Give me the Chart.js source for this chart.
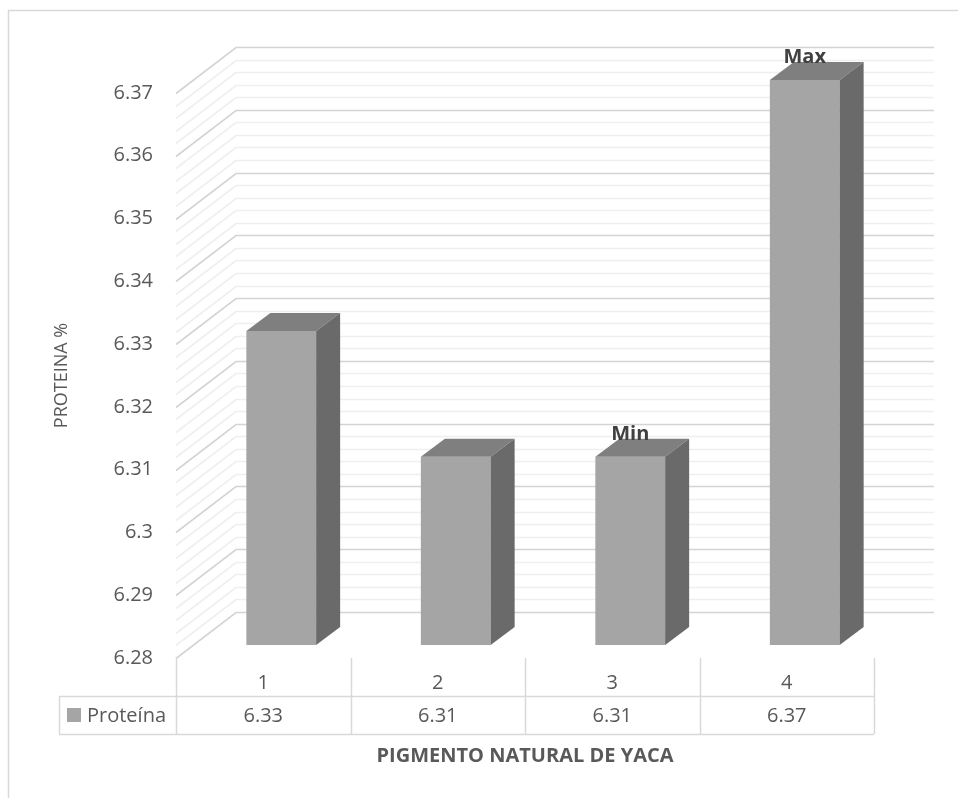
<!DOCTYPE html>
<html>
<head>
<meta charset="utf-8">
<script src="https://cdn.jsdelivr.net/npm/chart.js@4.4.0/dist/chart.umd.min.js"></script>
<style>
  body { margin: 0; background: #fff; }
  canvas { display: block; }
</style>
</head>
<body>
<canvas id="chartBar" width="958" height="798"></canvas>
<script>
// dados
const categorias = ['1', '2', '3', '4'];
const proteina = [6.33, 6.31, 6.31, 6.37];
const notas = ['', '', 'Min', 'Max'];
const nomeSerie = 'Proteína';
const eixoMin = 6.28;
const eixoMax = 6.37;
const passoMaior = 0.01;
const passoMenor = 0.002;
const tituloY = 'PROTEINA %';
const tituloX = 'PIGMENTO NATURAL DE YACA';

// estilo / geometria 3D
const fonte = "'Open Sans', sans-serif";
const corTexto = '#595959';
const corLinha = '#d9d9d9';
const parede = { dx: 60, dy: -46 };      // profundidade da parede do fundo
const frenteBarra = { dx: 18, dy: -13 }; // deslocamento da face frontal
const fundoBarra = { dx: 24, dy: -18 };  // profundidade da barra
const linhaTabela = 38;

const ctx = document.getElementById('chartBar');

const plugin3d = {
    id: 'plugin3d',
    beforeDraw(chart) {
        const c = chart.ctx;
        const a = chart.chartArea;
        const y = chart.scales.y;
        c.save();
        c.fillStyle = '#fff';
        c.fillRect(0, 0, chart.width, chart.height);
        // borda externa
        c.strokeStyle = corLinha;
        c.lineWidth = 1.5;
        c.strokeRect(8.5, 10.5, chart.width + 20, chart.height + 20);

        // grade da parede (linhas menores e maiores)
        const n = Math.round((eixoMax - eixoMin) / passoMenor);
        const porMaior = Math.round(passoMaior / passoMenor);
        for (let i = 0; i <= n; i++) {
            const v = eixoMin + i * passoMenor;
            const py = Math.round(y.getPixelForValue(v)) + 0.5;
            c.beginPath();
            c.moveTo(a.left, py);
            c.lineTo(a.left + parede.dx, py + parede.dy);
            c.lineTo(a.right + parede.dx, py + parede.dy);
            c.strokeStyle = (i % porMaior === 0) ? '#d4d4d4' : '#efefef';
            c.lineWidth = 1.6;
            c.stroke();
        }
        c.restore();
    },
    beforeDatasetsDraw(chart) {
        chart.ctx.save();
        chart.ctx.translate(frenteBarra.dx, frenteBarra.dy);
    },
    afterDatasetsDraw(chart) {
        const c = chart.ctx;
        const meta = chart.getDatasetMeta(0);
        const fundo = chart.chartArea.bottom;
        meta.data.forEach(function (bar, i) {
            const l = bar.x - bar.width / 2;
            const r = bar.x + bar.width / 2;
            const t = bar.y;
            const b = Math.min(bar.base, fundo);
            // topo
            c.beginPath();
            c.moveTo(l, t);
            c.lineTo(l + fundoBarra.dx, t + fundoBarra.dy);
            c.lineTo(r + fundoBarra.dx, t + fundoBarra.dy);
            c.lineTo(r, t);
            c.closePath();
            c.fillStyle = '#7f7f7f';
            c.fill();
            // lateral
            c.beginPath();
            c.moveTo(r, t);
            c.lineTo(r + fundoBarra.dx, t + fundoBarra.dy);
            c.lineTo(r + fundoBarra.dx, b + fundoBarra.dy);
            c.lineTo(r, b);
            c.closePath();
            c.fillStyle = '#6a6a6a';
            c.fill();
            // rotulo Min / Max
            if (notas[i]) {
                c.font = 'bold 20px ' + fonte;
                c.fillStyle = '#404040';
                c.textAlign = 'center';
                c.textBaseline = 'alphabetic';
                c.fillText(notas[i], bar.x, t + fundoBarra.dy + 1);
            }
        });
        c.restore();
    },
    afterDraw(chart) {
        const c = chart.ctx;
        const a = chart.chartArea;
        const x = chart.scales.x;
        const larg = (a.right - a.left) / categorias.length;
        const y1 = a.bottom + linhaTabela;
        const y2 = a.bottom + 2 * linhaTabela;
        const esq = 59;
        c.save();
        c.strokeStyle = corLinha;
        c.lineWidth = 1.5;
        c.beginPath();
        for (let i = 0; i <= categorias.length; i++) {
            const px = Math.round(a.left + i * larg) + 0.5;
            c.moveTo(px, a.bottom);
            c.lineTo(px, y2);
        }
        c.moveTo(esq + 0.5, y1);
        c.lineTo(esq + 0.5, y2);
        c.moveTo(esq, y1 + 0.5);
        c.lineTo(a.right, y1 + 0.5);
        c.moveTo(esq, y2 + 0.5);
        c.lineTo(a.right, y2 + 0.5);
        c.stroke();

        c.font = '20px ' + fonte;
        c.fillStyle = corTexto;
        c.textAlign = 'center';
        c.textBaseline = 'middle';
        categorias.forEach(function (cat, i) {
            const cx = x.getPixelForValue(i);
            c.fillText(cat, cx, a.bottom + linhaTabela / 2 + 6);
            c.fillText(proteina[i].toFixed(2), cx, y1 + linhaTabela / 2 + 1);
        });
        // legenda
        c.fillStyle = '#a5a5a5';
        c.fillRect(67, y1 + 12, 14, 14);
        c.fillStyle = corTexto;
        c.textAlign = 'left';
        c.fillText(nomeSerie, 87, y1 + linhaTabela / 2 + 1);

        // titulo do eixo x
        c.font = 'bold 20px ' + fonte;
        c.textAlign = 'center';
        c.fillText(tituloX, (a.left + a.right) / 2, y2 + 22);
        c.restore();
    }
};

var myBarChart = new Chart(ctx, {
    type: 'bar',
    data: {
        labels: categorias,
        datasets: [{
            label: nomeSerie,
            data: proteina,
            backgroundColor: '#a5a5a5',
            borderWidth: 0,
            barPercentage: 0.4,
            categoryPercentage: 1.0
        }]
    },
    options: {
        responsive: false,
        animation: false,
        devicePixelRatio: 1,
        layout: {
            padding: { left: 0, top: 93, right: 84, bottom: 140 }
        },
        scales: {
            x: {
                display: false
            },
            y: {
                min: eixoMin,
                max: eixoMax,
                grid: { display: false, drawTicks: false },
                border: { display: false },
                ticks: {
                    stepSize: passoMaior,
                    padding: 23,
                    color: corTexto,
                    font: { family: fonte, size: 20 },
                    callback: function (v) { return String(+v.toFixed(2)); }
                },
                title: {
                    display: true,
                    text: tituloY,
                    color: corTexto,
                    font: { family: fonte, size: 18 },
                    padding: { top: 51, bottom: 0 }
                },
                afterFit: function (s) { s.width = 176; }
            }
        },
        plugins: {
            legend: { display: false },
            tooltip: { enabled: false }
        }
    },
    plugins: [plugin3d]
});
</script>
</body>
</html>
